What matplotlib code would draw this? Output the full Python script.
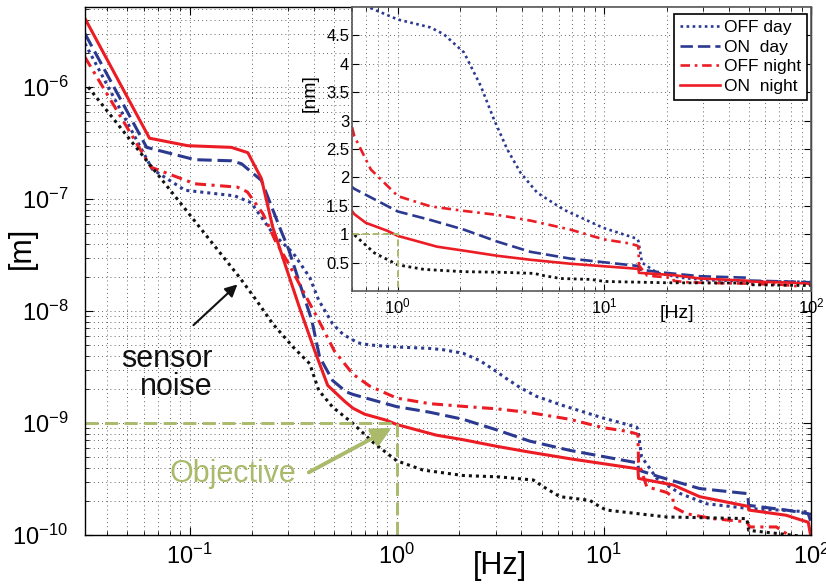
import numpy as np
import matplotlib.pyplot as plt
import matplotlib.font_manager as fm

avail = {f.name for f in fm.fontManager.ttflist}
font = next(n for n in ['Liberation Sans Narrow', 'Liberation Sans', 'DejaVu Sans'] if n in avail)
plt.rcParams['font.family'] = [font, 'DejaVu Sans']
plt.rcParams['mathtext.default'] = 'regular'

# ---- data (metres) ----
f_off_day = [0.03125, 0.066, 0.095, 0.165, 0.198, 0.253, 0.316, 0.38, 0.42, 0.49, 0.55, 0.65,
             0.74, 1.0, 1.44, 1.67, 2.09, 2.52, 2.92, 3.39, 3.93, 4.73, 6.37, 9.9, 14.4, 14.6,
             15.2, 18, 23.3, 31.4, 50.6, 80, 99, 100]
v_off_day = [2.45e-6, 1.85e-7, 1.2e-7, 1.07e-7, 9.3e-8, 4.9e-8, 3.3e-8, 2.0e-8, 1.25e-8, 7.7e-9,
             6.2e-9, 5.2e-9, 4.98e-9, 4.78e-9, 4.64e-9, 4.52e-9, 4.2e-9, 3.61e-9, 3.02e-9, 2.49e-9,
             2.08e-9, 1.73e-9, 1.43e-9, 1.11e-9, 0.92e-9, 0.88e-9, 0.5e-9, 0.32e-9, 0.235e-9,
             0.19e-9, 0.172e-9, 0.165e-9, 0.16e-9, 0.14e-9]

f_on_day = [0.03125, 0.062, 0.106, 0.159, 0.178, 0.222, 0.272, 0.30, 0.35, 0.389, 0.424, 0.49,
            0.57, 0.615, 1.0, 1.44, 2.09, 3.03, 4.38, 6.85, 14.6, 14.7, 18.6, 29, 49.5, 50, 76, 97, 100]
v_on_day = [3.0e-6, 2.9e-7, 2.25e-7, 2.2e-7, 2.07e-7, 1.47e-7, 5.6e-8, 3.6e-8, 1.5e-8, 8.25e-9,
            3.9e-9, 2.4e-9, 1.9e-9, 1.80e-9, 1.40e-9, 1.25e-9, 1.08e-9, 0.87e-9, 0.69e-9, 0.57e-9,
            0.44e-9, 0.38e-9, 0.33e-9, 0.26e-9, 0.234e-9, 0.184e-9, 0.167e-9, 0.155e-9, 0.13e-9]

f_off_night = [0.03125, 0.065, 0.106, 0.17, 0.19, 0.226, 0.26, 0.30, 0.366, 0.41, 0.50, 0.59,
               0.615, 0.74, 1.0, 1.44, 2.09, 3.03, 4.38, 6.85, 9.9, 13.1, 14.4, 14.6, 14.7, 16.1,
               20.1, 21.5, 21.7, 25, 33.6, 49, 50.6, 68, 76, 85]
v_off_night = [1.85e-6, 1.93e-7, 1.37e-7, 1.28e-7, 1.16e-7, 7.4e-8, 4.2e-8, 2.67e-8, 1.33e-8,
               9.0e-9, 4.4e-9, 3.0e-9, 2.73e-9, 2.14e-9, 1.67e-9, 1.49e-9, 1.41e-9, 1.34e-9,
               1.24e-9, 1.08e-9, 0.91e-9, 0.84e-9, 0.80e-9, 0.78e-9, 0.45e-9, 0.27e-9, 0.24e-9,
               0.22e-9, 0.178e-9, 0.155e-9, 0.14e-9, 0.131e-9, 0.118e-9, 0.118e-9, 0.103e-9, 0.085e-9]

f_on_night = [0.03125, 0.064, 0.098, 0.159, 0.191, 0.222, 0.252, 0.29, 0.34, 0.401, 0.464, 0.561,
              0.615, 0.70, 0.89, 1.0, 1.55, 2.09, 3.03, 4.38, 6.85, 14.6, 14.7, 21.6, 29, 49.9,
              50.1, 76, 97, 100]
v_on_night = [4.1e-6, 3.5e-7, 3.0e-7, 2.9e-7, 2.6e-7, 1.53e-7, 5.6e-8, 2.56e-8, 1.06e-8, 4.46e-9,
              2.17e-9, 1.56e-9, 1.355e-9, 1.2e-9, 1.06e-9, 0.97e-9, 0.78e-9, 0.71e-9, 0.62e-9,
              0.55e-9, 0.48e-9, 0.39e-9, 0.32e-9, 0.28e-9, 0.22e-9, 0.18e-9, 0.167e-9, 0.15e-9,
              0.13e-9, 0.95e-10]

f_sensor = [0.0324, 0.1742, 0.21, 0.252, 0.316, 0.38, 0.42, 0.49, 0.615, 0.77, 1.0, 1.34, 2.09,
            3.14, 4.56, 5.1, 6.13, 8.55, 9.6, 10.3, 20, 49, 50, 80, 100]
v_sensor = [1.0e-6, 2.0e-8, 1.25e-8, 7.7e-9, 4.77e-9, 3.39e-9, 1.96e-9, 1.39e-9, 0.99e-9, 0.67e-9,
            0.46e-9, 0.38e-9, 0.34e-9, 0.33e-9, 0.31e-9, 0.27e-9, 0.22e-9, 0.204e-9, 0.178e-9,
            0.167e-9, 0.145e-9, 0.14e-9, 0.11e-9, 0.1e-9, 0.095e-9]

# objective: 1 nm below 1 Hz
obj_f = [1 / 32, 1.0, 1.0]
obj_v = [1e-9, 1e-9, 1e-10]
obj_f_in = [0.6, 1.0, 1.0]
obj_v_in = [1.0, 1.0, 0.0]

labels = ['OFF day', 'ON  day', 'OFF night', 'ON  night']

blue = '#2b3990'
red = '#ec1c24'
olive = '#a9ba6b'
dark = '#111111'

series = [
    (f_off_day, v_off_day, dict(color=blue, dashes=(1, 1.3))),
    (f_on_day, v_on_day, dict(color=blue, dashes=(4.7, 1.9))),
    (f_off_night, v_off_night, dict(color=red, dashes=(3.6, 1.8, 1, 1.8))),
    (f_on_night, v_on_night, dict(color=red, linestyle='-')),
]

W, H = 826, 586
fig = plt.figure(figsize=(W / 100, H / 100), dpi=100)


def box(l, t, r, b):
    return [l / W, 1 - b / H, (r - l) / W, (b - t) / H]


grid_kw = dict(linestyle=(0, (1, 4)), color='0.2', linewidth=0.6)

# ---- main axes ----
ax = fig.add_axes(box(85, 7, 811, 535))
ax.set_xscale('log')
ax.set_yscale('log')
for f, v, st in series:
    ax.plot(f, v, lw=2.2, **st)
ax.plot(f_sensor, v_sensor, color=dark, lw=2.2, dashes=(1, 1.3))
ax.plot(obj_f, obj_v, color=olive, lw=2.1, dashes=(4.5, 2.2))
ax.set_xlim(1 / 32, 100)
ax.set_ylim(1e-10, 5.2e-6)
ax.grid(True, which='both', **grid_kw)
ax.tick_params(which='both', direction='in', top=True, right=True)
ax.tick_params(which='major', length=6, labelsize=17)
ax.tick_params(which='minor', length=3)
ax.tick_params(axis='y', pad=12)
ax.tick_params(axis='x', pad=6)
for s in ax.spines.values():
    s.set_linewidth(1.0)

ax.text(0.129, 2.8e-9, 'sensor\nnoise', ha='right', va='center', multialignment='right',
        fontsize=22, linespacing=0.95, color=dark)
ax.annotate('', xy=(0.174, 1.8e-8), xytext=(0.102, 7.2e-9),
            arrowprops=dict(arrowstyle='-|>', color=dark, lw=1.5, mutation_scale=18))
ax.text(0.1614, 2.97e-10, 'Objective', ha='center', va='baseline', fontsize=22, color=olive)
ax.annotate('', xy=(0.97, 0.93e-9), xytext=(0.366, 3.53e-10),
            arrowprops=dict(arrowstyle='-|>', color=olive, lw=2.8, mutation_scale=28))

fig.text(22 / W, 1 - 248 / H, '[m]', rotation=90, ha='center', va='center', fontsize=22)
fig.text(500 / W, 1 - 566 / H, '[Hz]', ha='center', va='center', fontsize=22)

# ---- inset (linear, nm) ----
ins = fig.add_axes(box(352, 7, 811, 291))
ins.set_facecolor('white')
ins.set_xscale('log')
handles = []
for f, v, st in series:
    h, = ins.plot(f, np.array(v) * 1e9, lw=1.9, **st)
    handles.append(h)
ins.plot(f_sensor, np.array(v_sensor) * 1e9, color=dark, lw=2.0, dashes=(1, 1.3))
ins.plot(obj_f_in, obj_v_in, color=olive, lw=1.4, dashes=(3.5, 1.8))
ins.set_xlim(0.6, 100)
ins.set_ylim(0, 5)
ins.set_yticks(np.arange(0.5, 4.6, 0.5))
ins.set_yticklabels(['%g' % t for t in np.arange(0.5, 4.6, 0.5)])
ins.grid(True, which='both', **grid_kw)
ins.tick_params(which='both', direction='in', top=True, right=True)
ins.tick_params(which='major', length=5, labelsize=12)
ins.tick_params(which='minor', length=3)
ins.tick_params(axis='y', pad=2)
ins.tick_params(axis='x', pad=4)
for s in ins.spines.values():
    s.set_linewidth(1.2)
    s.set_color('0.35')

leg = ins.legend(handles, labels, loc='upper right', bbox_to_anchor=(0.991, 0.975), fontsize=12.5,
                 frameon=True, fancybox=False, edgecolor='black', framealpha=1, borderpad=0.35,
                 handlelength=2.3, handletextpad=0.2, labelspacing=0.25, borderaxespad=0)
leg.get_frame().set_linewidth(1.2)

fig.text(310 / W, 1 - 93 / H, '[nm]', rotation=90, ha='center', va='center', fontsize=14)
fig.text(677 / W, 1 - 314 / H, '[Hz]', ha='center', va='center', fontsize=14)

fig.savefig('out.png', dpi=100)
